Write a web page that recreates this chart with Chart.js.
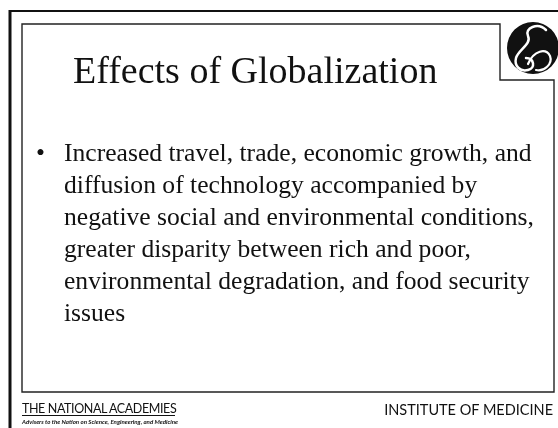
<!DOCTYPE html>
<html>
<head>
<meta charset="utf-8">
<script src="https://cdn.jsdelivr.net/npm/chart.js@4"></script>
<style>
	html, body { margin: 0; padding: 0; background: #fff; }
	#slide { position: relative; width: 558px; height: 428px; overflow: hidden; }
	#logo { position: absolute; left: 507px; top: 22px; }
	svg { position: absolute; left: 0; top: 0; }
	.serif { font-family: "Liberation Serif", "DejaVu Serif", serif; }
	.sans { font-family: "Lato", "Open Sans", sans-serif; }
</style>
</head>
<body>
<div id="slide">
	<canvas id="logo" width="52" height="52"></canvas>
	<svg id="art" width="558" height="428" xmlns="http://www.w3.org/2000/svg"></svg>
</div>
<script>
const title = 'Effects of Globalization';
const bulletLines = [
	'Increased travel, trade, economic growth, and',
	'diffusion of technology accompanied by',
	'negative social and environmental conditions,',
	'greater disparity between rich and poor,',
	'environmental degradation, and food security',
	'issues'
];
const footerLeft = 'THE NATIONAL ACADEMIES';
const footerSub = 'Advisers to the Nation on Science, Engineering, and Medicine';
const footerRight = 'INSTITUTE OF MEDICINE';
// logo disc, one black slice
const logoValues = [1];

const svg = document.getElementById('art');
const NS = 'http://www.w3.org/2000/svg';

function add(tag, attrs, text) {
	const el = document.createElementNS(NS, tag);
	for (const k in attrs) el.setAttribute(k, attrs[k]);
	if (text) el.textContent = text;
	svg.appendChild(el);
	return el;
}

// frames
add('line', { x1: 9, y1: 11, x2: 558, y2: 11, stroke: '#111', 'stroke-width': 2 });
add('line', { x1: 10, y1: 10, x2: 10, y2: 428, stroke: '#111', 'stroke-width': 3 });
add('path', { d: 'M22 24 H500 V80 H554 V392 H22 Z', fill: 'none', stroke: '#222', 'stroke-width': 1.4 });

// title
add('text', { x: 73, y: 83, class: 'serif', 'font-size': 38, fill: '#111' }, title);

// bullet
add('text', { x: 36, y: 161, class: 'serif', 'font-size': 25.6, fill: '#111' }, '•');
bulletLines.forEach(function(line, i) {
	add('text', { x: 64, y: 161 + i * 32, class: 'serif', 'font-size': 25.6, fill: '#111' }, line);
});

// footer
add('text', { x: 22, y: 413, class: 'sans', 'font-size': 12.5, 'letter-spacing': -0.4, fill: '#111' }, footerLeft);
add('line', { x1: 22, y1: 415.5, x2: 175, y2: 415.5, stroke: '#111', 'stroke-width': 1 });
add('text', { x: 22, y: 424, class: 'sans', 'font-size': 6.1, 'font-style': 'italic', 'font-weight': 'bold', fill: '#111' }, footerSub);
add('text', { x: 553, y: 415, class: 'sans', 'font-size': 14.5, fill: '#111', 'text-anchor': 'end' }, footerRight);

// logo disc via Chart.js
var ctx = document.getElementById('logo').getContext('2d');
var chart = new Chart(ctx, {
	type: 'pie',
	data: {
		labels: ['logo'],
		datasets: [{ data: logoValues, backgroundColor: '#111', borderWidth: 0 }]
	},
	options: {
		responsive: false,
		animation: false,
		events: [],
		plugins: { legend: { display: false }, tooltip: { enabled: false } }
	}
});

// white swirl on the disc
add('path', { d: 'M546 30 C538 22 524 28 528 36 C532 44 518 50 516 58 C514 66 520 72 528 70 C536 68 534 58 526 58', fill: 'none', stroke: '#fff', 'stroke-width': 2.5, 'stroke-linecap': 'round' });
add('path', { d: 'M528 64 C534 50 546 48 550 56 C553 64 544 72 536 70', fill: 'none', stroke: '#fff', 'stroke-width': 2.2, 'stroke-linecap': 'round' });
</script>
</body>
</html>
